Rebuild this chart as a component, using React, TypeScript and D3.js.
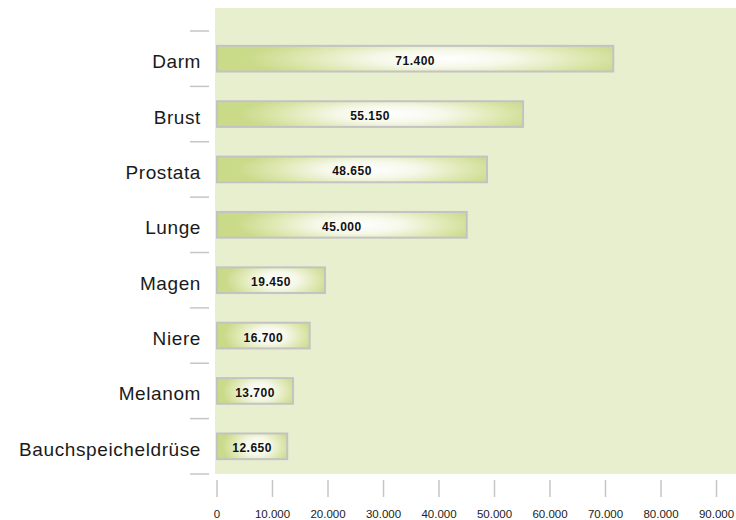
import React from 'react';
import * as d3 from 'd3';

// Krebsneuerkrankungen – values
const categories = ['Darm', 'Brust', 'Prostata', 'Lunge', 'Magen', 'Niere', 'Melanom', 'Bauchspeicheldrüse'];
const values = [71400, 55150, 48650, 45000, 19450, 16700, 13700, 12650];
const xTicks = [0, 10000, 20000, 30000, 40000, 50000, 60000, 70000, 80000, 90000];

const width = 736;
const height = 520;

const fmt = (v: number) => d3.format(',')(v).replace(/,/g, '.');

const App = () => {
  const plotLeft = 215;
  const plotTop = 8;
  const plotBottom = 474;

  const x = d3.scaleLinear().domain([0, 90000]).range([217, 716.5]);
  const y = d3
    .scaleBand<string>()
    .domain(categories)
    .range([31, 474])
    .paddingInner(0.5)
    .paddingOuter(0.25);

  const step = y.step();
  const bw = y.bandwidth();
  // separators sit halfway between the bands
  const seps = categories.map((c) => (y(c) as number) - (step - bw) / 2);
  seps.push(y.range()[1]);

  const font = '"Liberation Sans", Arial, Helvetica, sans-serif';

  return (
    <svg width={width} height={height} style={{ position: 'absolute', left: 0, top: 0, background: '#fff' }}>
      <defs>
        <radialGradient
          id="barGrad"
          cx="0.57"
          cy="0.5"
          r="0.5"
          gradientTransform="translate(0.57,0.5) scale(1,1.8) translate(-0.57,-0.5)"
        >
          <stop offset="0" stopColor="#ffffff" />
          <stop offset="0.35" stopColor="#f6f8ea" />
          <stop offset="0.7" stopColor="#dfe8b3" />
          <stop offset="1" stopColor="#c9da89" />
        </radialGradient>
      </defs>

      {/* plot background */}
      <rect x={plotLeft} y={plotTop} width={width - plotLeft} height={plotBottom - plotTop} fill="#e8efcf" />

      {/* category separators */}
      {seps.map((s, i) => (
        <line key={i} x1={190} x2={209} y1={s} y2={s} stroke="#c6c6c6" strokeWidth={1.5} />
      ))}

      {/* category labels */}
      {categories.map((c) => (
        <text
          key={c}
          x={201}
          y={(y(c) as number) + bw / 2}
          dy="0.5em"
          textAnchor="end"
          fontFamily={font}
          fontSize={19}
          letterSpacing={0.6}
          fill="#1a1a1a"
        >
          {c}
        </text>
      ))}

      {/* bars */}
      {categories.map((c, i) => (
        <g key={c}>
          <rect
            x={x(0)}
            y={(y(c) as number) + 1}
            width={x(values[i]) - x(0)}
            height={bw - 2}
            fill="url(#barGrad)"
            stroke="#c3c3c3"
            strokeWidth={2}
          />
          <text
            x={(x(0) + x(values[i])) / 2}
            y={(y(c) as number) + bw / 2}
            dy="0.5em"
            textAnchor="middle"
            fontFamily={font}
            fontWeight="bold"
            fontSize={12}
            letterSpacing={0.5}
            fill="#111"
          >
            {fmt(values[i])}
          </text>
        </g>
      ))}

      {/* x axis */}
      {xTicks.map((t) => (
        <g key={t} transform={`translate(${x(t)},0)`}>
          <line y1={480} y2={497} stroke="#c6c6c6" strokeWidth={1.5} />
          <text y={517.5} textAnchor="middle" fontFamily={font} fontSize={11.5} fill="#222">
            {fmt(t)}
          </text>
        </g>
      ))}
    </svg>
  );
};

export default App;
